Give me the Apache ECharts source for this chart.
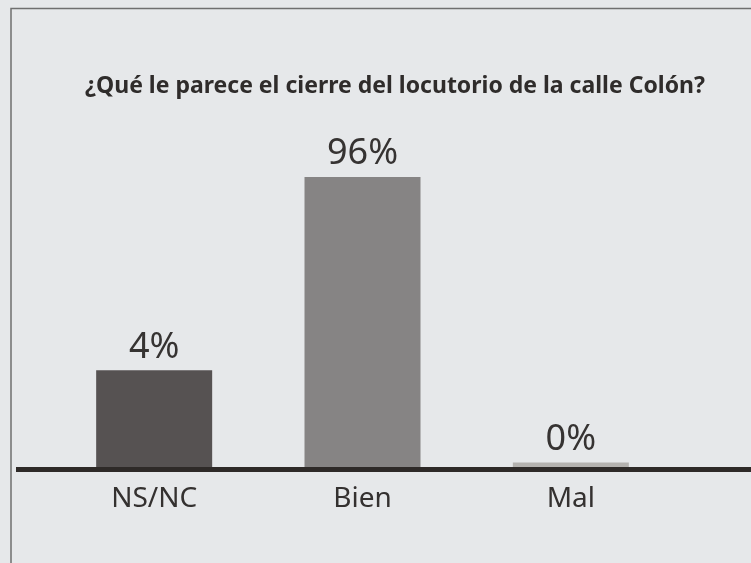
<!DOCTYPE html>
<html>
<head>
<meta charset="utf-8">
<script src="https://cdn.jsdelivr.net/npm/echarts@6/dist/echarts.min.js"></script>
<style>
html,body{margin:0;padding:0;background:#e6e8ea;}
#c{width:751px;height:563px;}
</style>
</head>
<body>
<div id="c"></div>
<script>
// Data
const categories = ['NS/NC', 'Bien', 'Mal'];
const percentValues = [4, 96, 0];
// Bar lengths as drawn in the reference (not to scale), in the same units as the Bien bar
const drawnLengths = [32, 96, 1.5];
const titleText = '¿Qué le parece el cierre del locutorio de la calle Colón?';

// Styles
const barColors = ['#565252', '#868484', '#b4b2af'];
const FONT = '"Noto Sans", "Open Sans", sans-serif';

const chart = echarts.init(document.getElementById('c'), null, {renderer: 'canvas'});
const option = {
  backgroundColor: '#e6e8ea',
  animation: false,
  title: {
    text: titleText,
    left: 390,
    textAlign: 'center',
    top: 70,
    textStyle: {fontFamily: FONT, fontWeight: 'bold', fontSize: 23, color: '#2f2c2b'}
  },
  grid: {left: 50, right: 76, top: 165, bottom: 96, containLabel: false},
  xAxis: {
    type: 'category',
    data: categories,
    axisLine: {show: false},
    axisTick: {show: false},
    axisLabel: {fontFamily: FONT, fontSize: 28, color: '#343130', margin: 18}
  },
  yAxis: {
    type: 'value', min: 0, max: 100, show: false,
    splitLine: {show: false}
  },
  series: [{
    type: 'bar',
    barWidth: 116,
    data: drawnLengths.map((v, i) => ({value: v, itemStyle: {color: barColors[i]}})),
    label: {
      show: true,
      position: 'top',
      distance: 5,
      fontFamily: FONT,
      fontSize: 36,
      color: '#363332',
      formatter: p => percentValues[p.dataIndex] + '%'
    }
  }]
};
chart.setOption(option);
const y0 = chart.convertToPixel({yAxisIndex: 0}, 0);
chart.setOption({
  graphic: [
    {type: 'polyline', shape: {points: [[11, 563], [11, 8.5], [751, 8.5]]},
     style: {stroke: '#6f6f6f', lineWidth: 1.5, fill: null}, silent: true},
    {type: 'line', shape: {x1: 16, y1: y0 + 2.5, x2: 751, y2: y0 + 2.5},
     style: {stroke: '#2e2a28', lineWidth: 5}, silent: true, z: 10}
  ]
});
</script>
</body>
</html>
